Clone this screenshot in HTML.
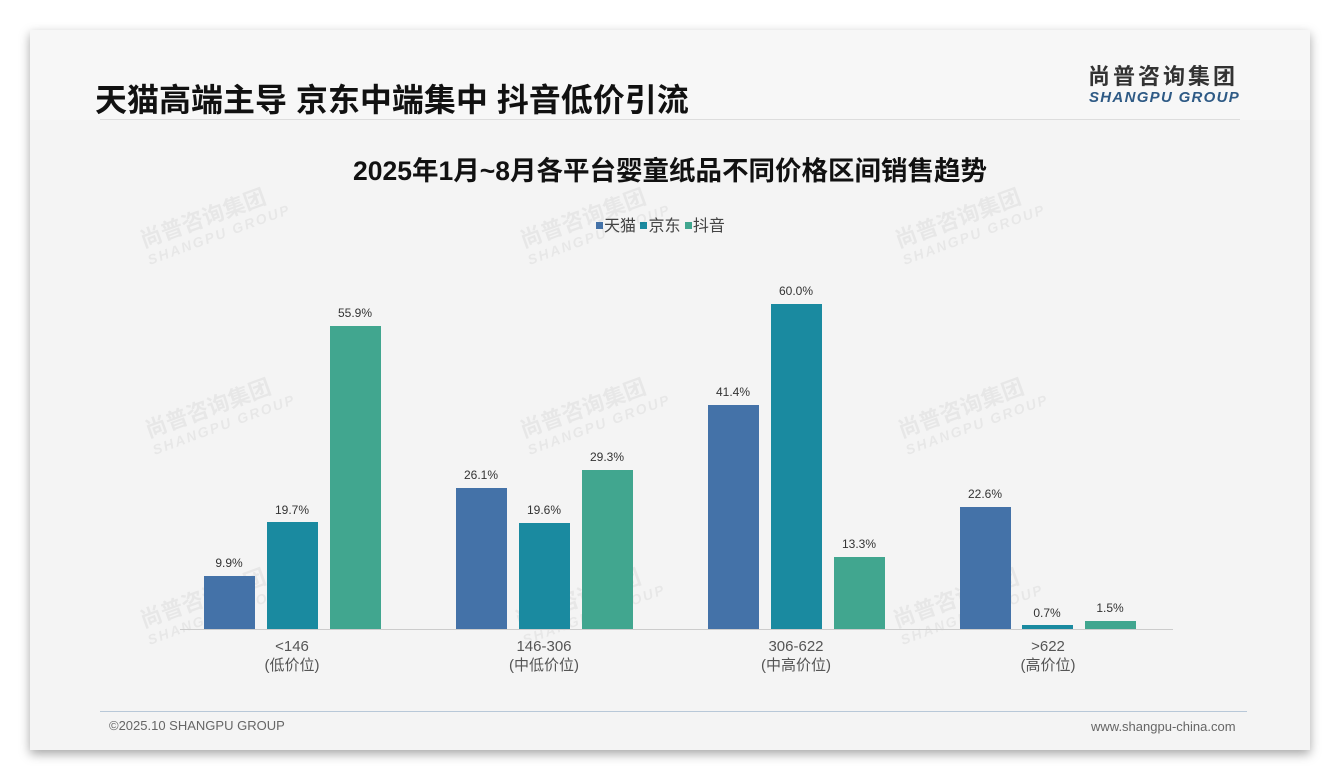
<!DOCTYPE html>
<html><head><meta charset="utf-8"><style>
body{margin:0;width:1340px;height:780px;background:#fff;position:relative;overflow:hidden;font-family:"Liberation Sans","Noto Sans CJK SC",sans-serif}
.card{position:absolute;left:30px;top:30px;width:1280px;height:720px;background:#f4f4f4;box-shadow:0 4px 10px rgba(0,0,0,0.35)}
.hdr{position:absolute;left:0;top:0;width:1280px;height:90px;background:#f7f7f7}
.abs{position:absolute;white-space:nowrap}
.bar{position:absolute;width:51px}
.v{position:absolute;width:70px;text-align:center;font-size:12px;color:#333}
.c{position:absolute;width:160px;text-align:center;font-size:15px;color:#555;line-height:19px}
.wm{position:absolute;transform:rotate(-20deg);color:rgba(0,0,0,0.05);font-weight:bold;font-size:22px;line-height:20px}
.wm span{display:block;font-size:14px;font-style:italic;letter-spacing:2px}
.sq{display:inline-block;width:7px;height:7px;margin-right:1px;vertical-align:2px}
</style></head><body>
<div class="card"><div class="hdr"></div></div>
<div class="abs" style="left:95px;top:75px;font-size:32px;font-weight:bold;color:#111">天猫高端主导 京东中端集中 抖音低价引流</div>
<div class="abs" style="left:1088px;top:62px;font-size:22px;line-height:30px;font-weight:bold;color:#333;letter-spacing:3px">尚普咨询集团</div>
<div class="abs" style="left:1089px;top:89px;font-size:15px;line-height:17px;font-weight:bold;font-style:italic;color:#2e5a85;letter-spacing:1.3px">SHANGPU GROUP</div>
<div class="abs" style="left:100px;top:119px;width:1140px;height:1px;background:#ddd"></div>
<div class="abs" style="left:0;width:1340px;text-align:center;top:149px;font-size:26.5px;font-weight:bold;color:#111">2025年1月~8月各平台婴童纸品不同价格区间销售趋势</div>
<div class="abs" style="left:596px;top:212px;font-size:16px;color:#444"><span class="sq" style="background:#4472a8"></span>天猫 <span class="sq" style="background:#1a8aa0"></span>京东 <span class="sq" style="background:#41a68f"></span>抖音</div>

<div class="wm" style="left:140px;top:205px">尚普咨询集团<span>SHANGPU GROUP</span></div>
<div class="wm" style="left:520px;top:205px">尚普咨询集团<span>SHANGPU GROUP</span></div>
<div class="wm" style="left:895px;top:205px">尚普咨询集团<span>SHANGPU GROUP</span></div>
<div class="wm" style="left:145px;top:395px">尚普咨询集团<span>SHANGPU GROUP</span></div>
<div class="wm" style="left:520px;top:395px">尚普咨询集团<span>SHANGPU GROUP</span></div>
<div class="wm" style="left:898px;top:395px">尚普咨询集团<span>SHANGPU GROUP</span></div>
<div class="wm" style="left:140px;top:585px">尚普咨询集团<span>SHANGPU GROUP</span></div>
<div class="wm" style="left:515px;top:585px">尚普咨询集团<span>SHANGPU GROUP</span></div>
<div class="wm" style="left:893px;top:585px">尚普咨询集团<span>SHANGPU GROUP</span></div>

<div class="bar" style="left:204px;top:576px;height:53px;background:#4472a8"></div>
<div class="bar" style="left:267px;top:522px;height:107px;background:#1a8aa0"></div>
<div class="bar" style="left:330px;top:326px;height:303px;background:#41a68f"></div>
<div class="bar" style="left:456px;top:488px;height:141px;background:#4472a8"></div>
<div class="bar" style="left:519px;top:523px;height:106px;background:#1a8aa0"></div>
<div class="bar" style="left:582px;top:470px;height:159px;background:#41a68f"></div>
<div class="bar" style="left:708px;top:405px;height:224px;background:#4472a8"></div>
<div class="bar" style="left:771px;top:304px;height:325px;background:#1a8aa0"></div>
<div class="bar" style="left:834px;top:557px;height:72px;background:#41a68f"></div>
<div class="bar" style="left:960px;top:507px;height:122px;background:#4472a8"></div>
<div class="bar" style="left:1022px;top:625px;height:4px;background:#1a8aa0"></div>
<div class="bar" style="left:1085px;top:621px;height:8px;background:#41a68f"></div>
<div class="abs" style="left:180px;top:629px;width:993px;height:1px;background:#ccc"></div>

<div class="v" style="left:194px;top:556px">9.9%</div>
<div class="v" style="left:257px;top:503px">19.7%</div>
<div class="v" style="left:320px;top:306px">55.9%</div>
<div class="v" style="left:446px;top:468px">26.1%</div>
<div class="v" style="left:509px;top:503px">19.6%</div>
<div class="v" style="left:572px;top:450px">29.3%</div>
<div class="v" style="left:698px;top:385px">41.4%</div>
<div class="v" style="left:761px;top:284px">60.0%</div>
<div class="v" style="left:824px;top:537px">13.3%</div>
<div class="v" style="left:950px;top:487px">22.6%</div>
<div class="v" style="left:1012px;top:606px">0.7%</div>
<div class="v" style="left:1075px;top:601px">1.5%</div>

<div class="c" style="left:212px;top:637px">&lt;146<br>(低价位)</div>
<div class="c" style="left:464px;top:637px">146-306<br>(中低价位)</div>
<div class="c" style="left:716px;top:637px">306-622<br>(中高价位)</div>
<div class="c" style="left:968px;top:637px">&gt;622<br>(高价位)</div>

<div class="abs" style="left:100px;top:711px;width:1147px;height:1px;background:#b8c8d8"></div>
<div class="abs" style="left:109px;top:718px;font-size:13px;color:#666">©2025.10 SHANGPU GROUP</div>
<div class="abs" style="left:1091px;top:719px;font-size:13px;color:#666">www.shangpu-china.com</div>
</body></html>
